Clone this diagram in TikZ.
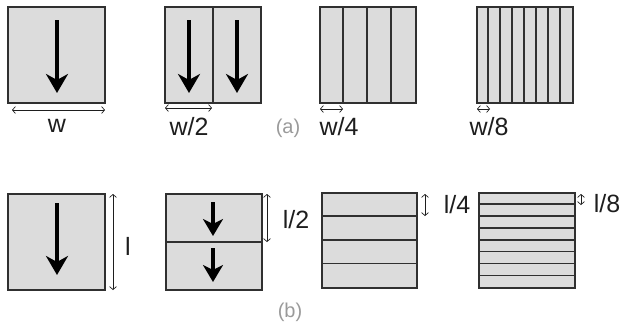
\documentclass[tikz,border=0pt]{standalone}
\usepackage{fontspec}
\setmainfont{Liberation Sans}
\usetikzlibrary{arrows.meta}
\definecolor{boxfill}{HTML}{DCDCDC}
\definecolor{boxline}{HTML}{303030}
\definecolor{lbl}{HTML}{1E1E1E}
\definecolor{sub}{HTML}{9A9A9A}
\tikzset{
  panel/.style={draw=boxline,fill=boxfill,line width=1.6pt},
  divline/.style={draw=boxline,line width=1.6pt},
  flow/.style={line width=4.5pt,-{Stealth[length=19pt,width=22pt,inset=6pt]},black},
  flowshort/.style={line width=4.5pt,-{Stealth[length=17pt,width=20pt,inset=5pt]},black},
  dim/.style={line width=0.7pt,draw=lbl,{Straight Barb[length=3pt,width=7pt]}-{Straight Barb[length=3pt,width=7pt]}},
  dimlbl/.style={text=lbl,font=\fontsize{25}{25}\selectfont,inner sep=0pt},
  sublbl/.style={text=sub,font=\fontsize{20}{20}\selectfont,inner sep=0pt}
}
\begin{document}
\begin{tikzpicture}[x=1pt,y=-1pt]
\useasboundingbox (0,0) rectangle (622,327);
% ---- row (a)
\node[panel,minimum width=97pt,minimum height=96pt,inner sep=0pt] (a1) at (56.5,55) {};
\coordinate (a1s) at (57,20); \coordinate (a1e) at (57,93);
\draw[flow] (a1s) -- (a1e);
\coordinate (a1l) at (12,110); \coordinate (a1r) at (105,110);
\draw[dim] (a1l) -- (a1r);
\node[dimlbl] (lw) at (57,126) {w};

\node[panel,minimum width=96pt,minimum height=96pt,inner sep=0pt] (a2) at (213,55) {};
\draw[divline] (a2.north) -- (a2.south);
\coordinate (a2s1) at (189,20); \coordinate (a2e1) at (189,93);
\coordinate (a2s2) at (237,20); \coordinate (a2e2) at (237,93);
\draw[flow] (a2s1) -- (a2e1);
\draw[flow] (a2s2) -- (a2e2);
\coordinate (a2l) at (165,108); \coordinate (a2r) at (212,108);
\draw[dim] (a2l) -- (a2r);
\node[dimlbl] (lw2) at (189,127) {w/2};
\node[sublbl] (sa) at (288,128) {(a)};

\node[panel,minimum width=96pt,minimum height=96pt,inner sep=0pt] (a3) at (368,55) {};
\foreach \i in {1,2,3} {\draw[divline] ([xshift=\i*24pt]a3.north west) -- ([xshift=\i*24pt]a3.south west);}
\coordinate (a3l) at (320,109); \coordinate (a3r) at (343,109);
\draw[dim] (a3l) -- (a3r);
\node[dimlbl] (lw4) at (339,127) {w/4};

\node[panel,minimum width=96pt,minimum height=96pt,inner sep=0pt] (a4) at (525,55) {};
\foreach \i in {1,...,7} {\draw[divline] ([xshift=\i*12pt]a4.north west) -- ([xshift=\i*12pt]a4.south west);}
\coordinate (a4l) at (477,109); \coordinate (a4r) at (490,109);
\draw[dim] (a4l) -- (a4r);
\node[dimlbl] (lw8) at (489,127) {w/8};

% ---- row (b)
\node[panel,minimum width=97pt,minimum height=96pt,inner sep=0pt] (b1) at (56.5,242) {};
\coordinate (b1s) at (57,203); \coordinate (b1e) at (57,275);
\draw[flow] (b1s) -- (b1e);
\coordinate (b1t) at (113,194); \coordinate (b1b) at (113,290);
\draw[dim] (b1t) -- (b1b);
\node[dimlbl] (ll) at (128,246) {l};

\node[panel,minimum width=96pt,minimum height=96pt,inner sep=0pt] (b2) at (214,242) {};
\draw[divline] (b2.west) -- (b2.east);
\coordinate (b2s1) at (213,202); \coordinate (b2e1) at (213,236);
\coordinate (b2s2) at (213,248); \coordinate (b2e2) at (213,282);
\draw[flowshort] (b2s1) -- (b2e1);
\draw[flowshort] (b2s2) -- (b2e2);
\coordinate (b2t) at (267,194); \coordinate (b2b) at (267,242);
\draw[dim] (b2t) -- (b2b);
\node[dimlbl] (ll2) at (296,220) {l/2};
\node[sublbl] (sb) at (290,312) {(b)};

\node[panel,minimum width=95pt,minimum height=95pt,inner sep=0pt] (b3) at (369.5,240.5) {};
\foreach \i in {1,2,3} {\draw[divline] ([yshift=-\i*23.75pt]b3.north west) -- ([yshift=-\i*23.75pt]b3.north east);}
\coordinate (b3t) at (425,194); \coordinate (b3b) at (425,216);
\draw[dim] (b3t) -- (b3b);
\node[dimlbl] (ll4) at (457,205) {l/4};

\node[panel,minimum width=96pt,minimum height=95pt,inner sep=0pt] (b4) at (527,240.5) {};
\foreach \i in {1,...,7} {\draw[divline] ([yshift=-\i*11.875pt]b4.north west) -- ([yshift=-\i*11.875pt]b4.north east);}
\coordinate (b4t) at (581,194); \coordinate (b4b) at (581,205);
\draw[dim] (b4t) -- (b4b);
\node[dimlbl] (ll8) at (607,204) {l/8};
\end{tikzpicture}
\end{document}
